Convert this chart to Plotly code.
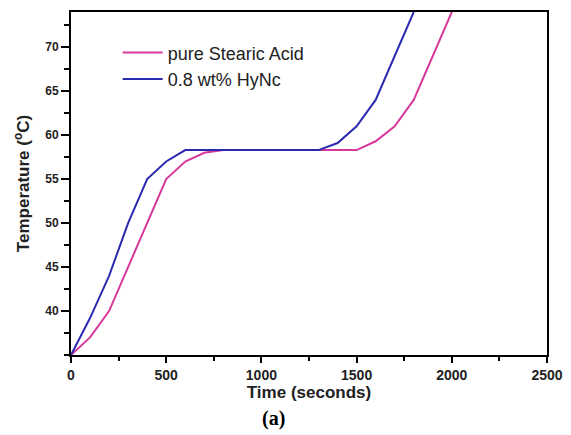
import plotly.graph_objects as go

time_pure = [0, 100, 200, 300, 400, 500, 600, 700, 800, 900, 1000, 1100, 1200, 1300, 1400, 1500, 1600, 1700, 1800, 1900, 2000]
temp_pure = [35, 37, 40, 45, 50, 55, 57, 58, 58.3, 58.3, 58.3, 58.3, 58.3, 58.3, 58.3, 58.3, 59.3, 61, 64, 69, 74]

time_hync = [0, 100, 200, 300, 400, 500, 600, 700, 800, 900, 1000, 1100, 1200, 1300, 1400, 1500, 1600, 1700, 1800]
temp_hync = [35, 39.2, 44, 50, 55, 57, 58.3, 58.3, 58.3, 58.3, 58.3, 58.3, 58.3, 58.3, 59.1, 61, 64, 69, 74]

x_ticks = [0, 500, 1000, 1500, 2000, 2500]
y_ticks = [40, 45, 50, 55, 60, 65, 70]

fig = go.Figure()
fig.add_trace(go.Scatter(x=time_pure, y=temp_pure, mode="lines", name="pure Stearic Acid",
                         line=dict(color="#d6399b", width=2)))
fig.add_trace(go.Scatter(x=time_hync, y=temp_hync, mode="lines", name="0.8 wt% HyNc",
                         line=dict(color="#2a2ab0", width=2)))

axis_common = dict(showline=True, linecolor="black", linewidth=2, mirror=True,
                   ticks="outside", tickwidth=1.5, tickcolor="black",
                   showgrid=False, zeroline=False, automargin=False)

fig.update_xaxes(range=[0, 2500], tickvals=x_ticks, ticklen=6, **axis_common,
                 tickfont=dict(family="Liberation Sans, Arial", size=14, color="#222", weight="bold"),
                 minor=dict(ticks="outside", ticklen=4, tickwidth=1.5, tickcolor="black", dtick=250),
                 title=dict(text="Time (seconds)", standoff=3,
                            font=dict(family="Liberation Sans, Arial", size=17, color="#222", weight="bold")))
fig.update_yaxes(range=[35, 74], tickvals=y_ticks, ticklen=8, **axis_common,
                 tickfont=dict(family="Liberation Sans, Arial", size=12, color="#222", weight="bold"),
                 minor=dict(ticks="outside", ticklen=5, tickwidth=1.5, tickcolor="black", dtick=2.5, tick0=35),
                 title=dict(text="Temperature (<sup>o</sup>C)", standoff=11,
                            font=dict(family="Liberation Sans, Arial", size=17, color="#222", weight="bold")))

fig.update_layout(
    width=571, height=435,
    margin=dict(l=71, r=24, t=12, b=80),
    paper_bgcolor="white", plot_bgcolor="white",
    legend=dict(x=0.098, y=0.935, xanchor="left", yanchor="top", bgcolor="rgba(0,0,0,0)",
                font=dict(family="Liberation Sans, Arial", size=18, color="#222"),
                tracegroupgap=0, itemwidth=40),
    annotations=[dict(text="<b>(a)</b>", xref="paper", yref="paper", x=0.425, y=-0.145,
                      xanchor="center", yanchor="top", showarrow=False,
                      font=dict(family="Liberation Serif, Times New Roman", size=20, color="black"))],
)

fig.write_html("out.html", config={"displayModeBar": False},
               post_script="document.body.style.margin='0';document.body.style.overflow='hidden';")
